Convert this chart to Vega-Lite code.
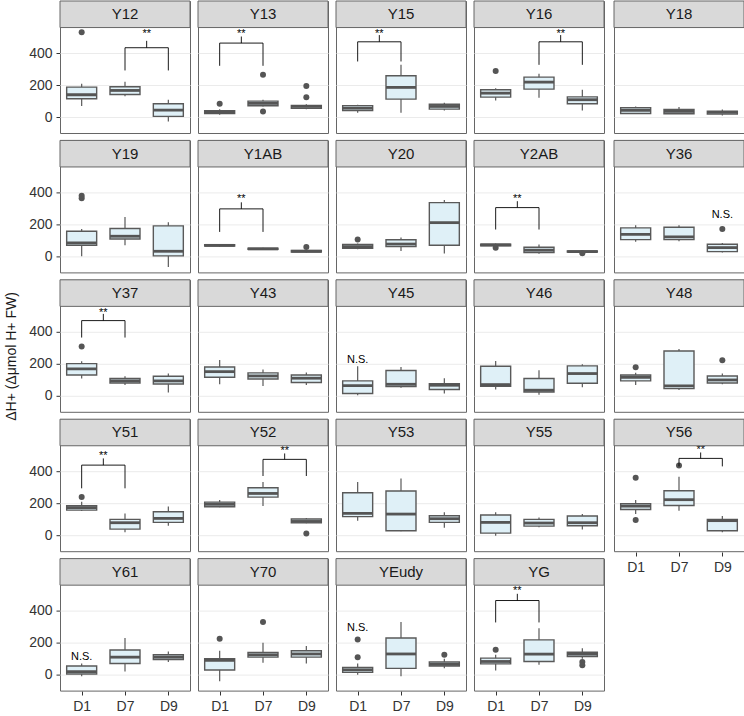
{
  "$schema": "https://vega.github.io/schema/vega-lite/v6.json",
  "padding": {"left": 4, "top": 0, "right": 2, "bottom": 2},
  "title": {"text": "ΔH+ (Δμmol H+ FW)", "orient": "left", "anchor": "middle", "fontSize": 14, "fontWeight": "normal", "font": "Liberation Sans", "color": "#1a1a1a", "offset": 10},
  "data": {"values": [
    {"kind":"strip","panel":"Y12"},{"kind":"strip","panel":"Y13"},{"kind":"strip","panel":"Y15"},{"kind":"strip","panel":"Y16"},{"kind":"strip","panel":"Y18"},
    {"kind":"strip","panel":"Y19"},{"kind":"strip","panel":"Y1AB"},{"kind":"strip","panel":"Y20"},{"kind":"strip","panel":"Y2AB"},{"kind":"strip","panel":"Y36"},
    {"kind":"strip","panel":"Y37"},{"kind":"strip","panel":"Y43"},{"kind":"strip","panel":"Y45"},{"kind":"strip","panel":"Y46"},{"kind":"strip","panel":"Y48"},
    {"kind":"strip","panel":"Y51"},{"kind":"strip","panel":"Y52"},{"kind":"strip","panel":"Y53"},{"kind":"strip","panel":"Y55"},{"kind":"strip","panel":"Y56"},
    {"kind":"strip","panel":"Y61"},{"kind":"strip","panel":"Y70"},{"kind":"strip","panel":"YEudy"},{"kind":"strip","panel":"YG"},

    {"kind":"box","panel":"Y12","day":"D1","lo":69,"q1":115,"med":140,"q3":188,"hi":209},
    {"kind":"box","panel":"Y12","day":"D7","lo":131,"q1":142,"med":167,"q3":190,"hi":221},
    {"kind":"box","panel":"Y12","day":"D9","lo":-27,"q1":5,"med":44,"q3":84,"hi":109},
    {"kind":"box","panel":"Y13","day":"D1","lo":15,"q1":22,"med":30,"q3":40,"hi":50},
    {"kind":"box","panel":"Y13","day":"D7","lo":67,"q1":71,"med":86,"q3":100,"hi":109},
    {"kind":"box","panel":"Y13","day":"D9","lo":50,"q1":55,"med":67,"q3":73,"hi":80},
    {"kind":"box","panel":"Y15","day":"D1","lo":28,"q1":42,"med":57,"q3":72,"hi":78},
    {"kind":"box","panel":"Y15","day":"D7","lo":27,"q1":113,"med":186,"q3":259,"hi":327},
    {"kind":"box","panel":"Y15","day":"D9","lo":42,"q1":50,"med":67,"q3":81,"hi":90},
    {"kind":"box","panel":"Y16","day":"D1","lo":104,"q1":125,"med":150,"q3":171,"hi":180},
    {"kind":"box","panel":"Y16","day":"D7","lo":121,"q1":175,"med":219,"q3":250,"hi":271},
    {"kind":"box","panel":"Y16","day":"D9","lo":42,"q1":84,"med":109,"q3":127,"hi":171},
    {"kind":"box","panel":"Y18","day":"D1","lo":19,"q1":23,"med":42,"q3":59,"hi":67},
    {"kind":"box","panel":"Y18","day":"D7","lo":19,"q1":21,"med":36,"q3":48,"hi":63},
    {"kind":"box","panel":"Y18","day":"D9","lo":11,"q1":19,"med":30,"q3":38,"hi":48},
    {"kind":"box","panel":"Y19","day":"D1","lo":2,"q1":71,"med":85,"q3":158,"hi":173},
    {"kind":"box","panel":"Y19","day":"D7","lo":71,"q1":110,"med":127,"q3":175,"hi":248},
    {"kind":"box","panel":"Y19","day":"D9","lo":-65,"q1":4,"med":33,"q3":192,"hi":214},
    {"kind":"box","panel":"Y1AB","day":"D1","lo":62,"q1":66,"med":70,"q3":74,"hi":78},
    {"kind":"box","panel":"Y1AB","day":"D7","lo":42,"q1":45,"med":48,"q3":52,"hi":55},
    {"kind":"box","panel":"Y1AB","day":"D9","lo":25,"q1":28,"med":33,"q3":38,"hi":42},
    {"kind":"box","panel":"Y20","day":"D1","lo":45,"q1":52,"med":62,"q3":75,"hi":82},
    {"kind":"box","panel":"Y20","day":"D7","lo":35,"q1":62,"med":78,"q3":105,"hi":119},
    {"kind":"box","panel":"Y20","day":"D9","lo":19,"q1":71,"med":212,"q3":337,"hi":354},
    {"kind":"box","panel":"Y2AB","day":"D1","lo":64,"q1":68,"med":73,"q3":78,"hi":82},
    {"kind":"box","panel":"Y2AB","day":"D7","lo":18,"q1":25,"med":40,"q3":58,"hi":75},
    {"kind":"box","panel":"Y2AB","day":"D9","lo":24,"q1":28,"med":31,"q3":35,"hi":38},
    {"kind":"box","panel":"Y36","day":"D1","lo":92,"q1":106,"med":139,"q3":179,"hi":196},
    {"kind":"box","panel":"Y36","day":"D7","lo":96,"q1":106,"med":123,"q3":183,"hi":196},
    {"kind":"box","panel":"Y36","day":"D9","lo":25,"q1":31,"med":56,"q3":77,"hi":85},
    {"kind":"box","panel":"Y37","day":"D1","lo":109,"q1":131,"med":169,"q3":202,"hi":217},
    {"kind":"box","panel":"Y37","day":"D7","lo":69,"q1":81,"med":94,"q3":109,"hi":123},
    {"kind":"box","panel":"Y37","day":"D9","lo":21,"q1":75,"med":94,"q3":123,"hi":140},
    {"kind":"box","panel":"Y43","day":"D1","lo":73,"q1":117,"med":152,"q3":181,"hi":225},
    {"kind":"box","panel":"Y43","day":"D7","lo":63,"q1":106,"med":125,"q3":144,"hi":165},
    {"kind":"box","panel":"Y43","day":"D9","lo":69,"q1":84,"med":111,"q3":131,"hi":146},
    {"kind":"box","panel":"Y45","day":"D1","lo":5,"q1":15,"med":65,"q3":94,"hi":186},
    {"kind":"box","panel":"Y45","day":"D7","lo":52,"q1":59,"med":73,"q3":159,"hi":181},
    {"kind":"box","panel":"Y45","day":"D9","lo":15,"q1":40,"med":67,"q3":77,"hi":111},
    {"kind":"box","panel":"Y46","day":"D1","lo":40,"q1":61,"med":71,"q3":186,"hi":219},
    {"kind":"box","panel":"Y46","day":"D7","lo":7,"q1":25,"med":36,"q3":109,"hi":161},
    {"kind":"box","panel":"Y46","day":"D9","lo":54,"q1":79,"med":140,"q3":188,"hi":198},
    {"kind":"box","panel":"Y48","day":"D1","lo":69,"q1":94,"med":117,"q3":131,"hi":145},
    {"kind":"box","panel":"Y48","day":"D7","lo":38,"q1":46,"med":63,"q3":281,"hi":294},
    {"kind":"box","panel":"Y48","day":"D9","lo":73,"q1":81,"med":100,"q3":125,"hi":140},
    {"kind":"box","panel":"Y51","day":"D1","lo":152,"q1":158,"med":173,"q3":185,"hi":210},
    {"kind":"box","panel":"Y51","day":"D7","lo":19,"q1":39,"med":79,"q3":100,"hi":137},
    {"kind":"box","panel":"Y51","day":"D9","lo":60,"q1":81,"med":106,"q3":148,"hi":181},
    {"kind":"box","panel":"Y52","day":"D1","lo":175,"q1":179,"med":194,"q3":208,"hi":221},
    {"kind":"box","panel":"Y52","day":"D7","lo":183,"q1":239,"med":262,"q3":298,"hi":333},
    {"kind":"box","panel":"Y52","day":"D9","lo":75,"q1":78,"med":87,"q3":102,"hi":108},
    {"kind":"box","panel":"Y53","day":"D1","lo":91,"q1":117,"med":137,"q3":266,"hi":333},
    {"kind":"box","panel":"Y53","day":"D7","lo":25,"q1":29,"med":133,"q3":277,"hi":356},
    {"kind":"box","panel":"Y53","day":"D9","lo":48,"q1":81,"med":104,"q3":123,"hi":144},
    {"kind":"box","panel":"Y55","day":"D1","lo":-2,"q1":14,"med":81,"q3":127,"hi":144},
    {"kind":"box","panel":"Y55","day":"D7","lo":50,"q1":58,"med":77,"q3":100,"hi":112},
    {"kind":"box","panel":"Y55","day":"D9","lo":37,"q1":60,"med":79,"q3":121,"hi":133},
    {"kind":"box","panel":"Y56","day":"D1","lo":133,"q1":162,"med":183,"q3":198,"hi":221},
    {"kind":"box","panel":"Y56","day":"D7","lo":154,"q1":187,"med":223,"q3":279,"hi":366},
    {"kind":"box","panel":"Y56","day":"D9","lo":19,"q1":29,"med":92,"q3":100,"hi":121},
    {"kind":"box","panel":"Y61","day":"D1","lo":-10,"q1":5,"med":20,"q3":55,"hi":70},
    {"kind":"box","panel":"Y61","day":"D7","lo":20,"q1":70,"med":110,"q3":155,"hi":230},
    {"kind":"box","panel":"Y61","day":"D9","lo":80,"q1":95,"med":110,"q3":125,"hi":145},
    {"kind":"box","panel":"Y70","day":"D1","lo":-40,"q1":30,"med":90,"q3":100,"hi":150},
    {"kind":"box","panel":"Y70","day":"D7","lo":75,"q1":110,"med":125,"q3":140,"hi":200},
    {"kind":"box","panel":"Y70","day":"D9","lo":70,"q1":110,"med":130,"q3":150,"hi":180},
    {"kind":"box","panel":"YEudy","day":"D1","lo":0,"q1":15,"med":30,"q3":45,"hi":70},
    {"kind":"box","panel":"YEudy","day":"D7","lo":-10,"q1":40,"med":130,"q3":230,"hi":330},
    {"kind":"box","panel":"YEudy","day":"D9","lo":40,"q1":55,"med":65,"q3":80,"hi":100},
    {"kind":"box","panel":"YG","day":"D1","lo":27,"q1":68,"med":83,"q3":104,"hi":125},
    {"kind":"box","panel":"YG","day":"D7","lo":62,"q1":83,"med":129,"q3":218,"hi":291},
    {"kind":"box","panel":"YG","day":"D9","lo":100,"q1":114,"med":129,"q3":141,"hi":166},

    {"kind":"out","panel":"Y12","day":"D1","val":531},
    {"kind":"out","panel":"Y13","day":"D1","val":84},
    {"kind":"out","panel":"Y13","day":"D7","val":265},
    {"kind":"out","panel":"Y13","day":"D7","val":36},
    {"kind":"out","panel":"Y13","day":"D9","val":194},
    {"kind":"out","panel":"Y13","day":"D9","val":125},
    {"kind":"out","panel":"Y16","day":"D1","val":288},
    {"kind":"out","panel":"Y19","day":"D1","val":365},
    {"kind":"out","panel":"Y19","day":"D1","val":380},
    {"kind":"out","panel":"Y1AB","day":"D9","val":60},
    {"kind":"out","panel":"Y20","day":"D1","val":106},
    {"kind":"out","panel":"Y2AB","day":"D1","val":55},
    {"kind":"out","panel":"Y2AB","day":"D9","val":20},
    {"kind":"out","panel":"Y36","day":"D9","val":173},
    {"kind":"out","panel":"Y37","day":"D1","val":309},
    {"kind":"out","panel":"Y48","day":"D1","val":179},
    {"kind":"out","panel":"Y48","day":"D9","val":223},
    {"kind":"out","panel":"Y51","day":"D1","val":239},
    {"kind":"out","panel":"Y52","day":"D9","val":12},
    {"kind":"out","panel":"Y56","day":"D1","val":360},
    {"kind":"out","panel":"Y56","day":"D1","val":96},
    {"kind":"out","panel":"Y56","day":"D7","val":437},
    {"kind":"out","panel":"Y70","day":"D1","val":225},
    {"kind":"out","panel":"Y70","day":"D7","val":330},
    {"kind":"out","panel":"YEudy","day":"D1","val":220},
    {"kind":"out","panel":"YEudy","day":"D1","val":110},
    {"kind":"out","panel":"YEudy","day":"D9","val":125},
    {"kind":"out","panel":"YG","day":"D1","val":156},
    {"kind":"out","panel":"YG","day":"D9","val":80},
    {"kind":"out","panel":"YG","day":"D9","val":60},

    {"kind":"br","panel":"Y12","from":"D7","to":"D9","mid":"D7–D9","leg":292,"h":434,"tip":477,"ty":531,"label":"**"},
    {"kind":"br","panel":"Y13","from":"D1","to":"D7","mid":"D1–D7","leg":321,"h":463,"tip":504,"ty":531,"label":"**"},
    {"kind":"br","panel":"Y15","from":"D1","to":"D7","mid":"D1–D7","leg":348,"h":471,"tip":513,"ty":531,"label":"**"},
    {"kind":"br","panel":"Y16","from":"D7","to":"D9","mid":"D7–D9","leg":327,"h":471,"tip":513,"ty":531,"label":"**"},
    {"kind":"br","panel":"Y1AB","from":"D1","to":"D7","mid":"D1–D7","leg":154,"h":298,"tip":339,"ty":373,"label":"**"},
    {"kind":"br","panel":"Y2AB","from":"D1","to":"D7","mid":"D1–D7","leg":169,"h":306,"tip":346,"ty":373,"label":"**"},
    {"kind":"br","panel":"Y37","from":"D1","to":"D7","mid":"D1–D7","leg":365,"h":471,"tip":513,"ty":531,"label":"**"},
    {"kind":"br","panel":"Y51","from":"D1","to":"D7","mid":"D1–D7","leg":294,"h":439,"tip":481,"ty":506,"label":"**"},
    {"kind":"br","panel":"Y52","from":"D7","to":"D9","mid":"D7–D9","leg":371,"h":475,"tip":512,"ty":537,"label":"**"},
    {"kind":"br","panel":"Y56","from":"D7","to":"D9","mid":"D7–D9","leg":431,"h":481,"tip":518,"ty":544,"label":"**"},
    {"kind":"br","panel":"YG","from":"D1","to":"D7","mid":"D1–D7","leg":327,"h":464,"tip":506,"ty":535,"label":"**"},

    {"kind":"ns","panel":"Y36","day":"D9","val":258,"label":"N.S."},
    {"kind":"ns","panel":"Y45","day":"D1","val":227,"label":"N.S."},
    {"kind":"ns","panel":"Y61","day":"D1","val":110,"label":"N.S."},
    {"kind":"ns","panel":"YEudy","day":"D1","val":290,"label":"N.S."}
  ]},
  "spacing": 8,
  "hconcat": [
    {
      "transform": [{"filter": "indexof(['Y18','Y36','Y48','Y56'], datum.panel) < 0"}],
      "facet": {"field": "panel", "type": "nominal", "header": {"labels": false, "title": null, "labelFontSize": 0, "labelPadding": 0},
        "sort": ["Y12","Y13","Y15","Y16","Y19","Y1AB","Y20","Y2AB","Y37","Y43","Y45","Y46","Y51","Y52","Y53","Y55","Y61","Y70","YEudy","YG"]},
      "columns": 4,
      "spacing": {"row": 7.4, "column": 8},
      "bounds": "flush",
      "spec": {
        "width": 130,
        "height": 132,
        "layer": [
          {
            "transform": [{"filter": "datum.kind === 'box'"}],
            "mark": {"type": "rule", "color": "#595959", "strokeWidth": 1.2},
            "encoding": {
              "x": {"field": "day", "type": "nominal", "scale": {"type": "point", "domain": ["D1","D1–D7","D7","D7–D9","D9"], "padding": 1.2}, "axis": {"values": ["D1","D7","D9"], "title": null, "labelAngle": 0}},
              "y": {"field": "lo", "type": "quantitative", "title": null, "scale": {"domain": [-99, 726], "nice": false, "zero": false},
                "axis": {"values": [0,100,200,300,400,500], "labelExpr": "datum.value % 200 === 0 ? datum.label : ''",
                  "tickOpacity": {"condition": {"test": "datum.value % 200 === 0", "value": 1}, "value": 0},
                  "gridWidth": {"condition": {"test": "datum.value % 200 === 0", "value": 1}, "value": 0.6}, "title": null}},
              "y2": {"field": "hi"}
            }
          },
          {
            "transform": [{"filter": "datum.kind === 'box'"}],
            "mark": {"type": "bar", "size": 30, "fill": "#DFF0F7", "stroke": "#595959", "strokeWidth": 1.4},
            "encoding": {
              "x": {"field": "day", "type": "nominal", "scale": {"type": "point", "domain": ["D1","D1–D7","D7","D7–D9","D9"], "padding": 1.2}, "axis": {"values": ["D1","D7","D9"], "title": null, "labelAngle": 0}},
              "y": {"field": "q1", "type": "quantitative", "title": null, "scale": {"domain": [-99, 726], "nice": false, "zero": false}},
              "y2": {"field": "q3"}
            }
          },
          {
            "transform": [{"filter": "datum.kind === 'box'"}],
            "mark": {"type": "tick", "size": 30, "thickness": 2.8, "color": "#555555", "opacity": 1},
            "encoding": {
              "x": {"field": "day", "type": "nominal", "scale": {"type": "point", "domain": ["D1","D1–D7","D7","D7–D9","D9"], "padding": 1.2}, "axis": {"values": ["D1","D7","D9"], "title": null, "labelAngle": 0}},
              "y": {"field": "med", "type": "quantitative", "title": null, "scale": {"domain": [-99, 726], "nice": false, "zero": false}}
            }
          },
          {
            "transform": [{"filter": "datum.kind === 'out'"}],
            "mark": {"type": "circle", "size": 36, "color": "#555555", "opacity": 1},
            "encoding": {
              "x": {"field": "day", "type": "nominal", "scale": {"type": "point", "domain": ["D1","D1–D7","D7","D7–D9","D9"], "padding": 1.2}, "axis": {"values": ["D1","D7","D9"], "title": null, "labelAngle": 0}},
              "y": {"field": "val", "type": "quantitative", "title": null, "scale": {"domain": [-99, 726], "nice": false, "zero": false}}
            }
          },
          {
            "transform": [{"filter": "datum.kind === 'br'"}],
            "mark": {"type": "rule", "color": "#000000", "strokeWidth": 0.9},
            "encoding": {
              "x": {"field": "from", "type": "nominal", "scale": {"type": "point", "domain": ["D1","D1–D7","D7","D7–D9","D9"], "padding": 1.2}, "axis": {"values": ["D1","D7","D9"], "title": null, "labelAngle": 0}},
              "x2": {"field": "to"},
              "y": {"field": "h", "type": "quantitative", "title": null, "scale": {"domain": [-99, 726], "nice": false, "zero": false}}
            }
          },
          {
            "transform": [{"filter": "datum.kind === 'br'"}],
            "mark": {"type": "rule", "color": "#000000", "strokeWidth": 0.9},
            "encoding": {
              "x": {"field": "from", "type": "nominal", "scale": {"type": "point", "domain": ["D1","D1–D7","D7","D7–D9","D9"], "padding": 1.2}, "axis": {"values": ["D1","D7","D9"], "title": null, "labelAngle": 0}},
              "y": {"field": "leg", "type": "quantitative", "title": null, "scale": {"domain": [-99, 726], "nice": false, "zero": false}},
              "y2": {"field": "h"}
            }
          },
          {
            "transform": [{"filter": "datum.kind === 'br'"}],
            "mark": {"type": "rule", "color": "#000000", "strokeWidth": 0.9},
            "encoding": {
              "x": {"field": "to", "type": "nominal", "scale": {"type": "point", "domain": ["D1","D1–D7","D7","D7–D9","D9"], "padding": 1.2}, "axis": {"values": ["D1","D7","D9"], "title": null, "labelAngle": 0}},
              "y": {"field": "leg", "type": "quantitative", "title": null, "scale": {"domain": [-99, 726], "nice": false, "zero": false}},
              "y2": {"field": "h"}
            }
          },
          {
            "transform": [{"filter": "datum.kind === 'br'"}],
            "mark": {"type": "rule", "color": "#000000", "strokeWidth": 0.9},
            "encoding": {
              "x": {"field": "mid", "type": "nominal", "scale": {"type": "point", "domain": ["D1","D1–D7","D7","D7–D9","D9"], "padding": 1.2}, "axis": {"values": ["D1","D7","D9"], "title": null, "labelAngle": 0}},
              "y": {"field": "h", "type": "quantitative", "title": null, "scale": {"domain": [-99, 726], "nice": false, "zero": false}},
              "y2": {"field": "tip"}
            }
          },
          {
            "transform": [{"filter": "datum.kind === 'br'"}],
            "mark": {"type": "text", "fontSize": 11, "color": "#000000", "baseline": "middle", "dy": 2, "font": "Liberation Sans"},
            "encoding": {
              "x": {"field": "mid", "type": "nominal", "scale": {"type": "point", "domain": ["D1","D1–D7","D7","D7–D9","D9"], "padding": 1.2}, "axis": {"values": ["D1","D7","D9"], "title": null, "labelAngle": 0}},
              "y": {"field": "ty", "type": "quantitative", "title": null, "scale": {"domain": [-99, 726], "nice": false, "zero": false}},
              "text": {"field": "label"}
            }
          },
          {
            "transform": [{"filter": "datum.kind === 'ns'"}],
            "mark": {"type": "text", "fontSize": 11, "color": "#000000", "baseline": "middle", "font": "Liberation Sans"},
            "encoding": {
              "x": {"field": "day", "type": "nominal", "scale": {"type": "point", "domain": ["D1","D1–D7","D7","D7–D9","D9"], "padding": 1.2}, "axis": {"values": ["D1","D7","D9"], "title": null, "labelAngle": 0}},
              "y": {"field": "val", "type": "quantitative", "title": null, "scale": {"domain": [-99, 726], "nice": false, "zero": false}},
              "text": {"field": "label"}
            }
          },
          {
            "transform": [{"filter": "datum.kind === 'strip'"}],
            "mark": {"type": "rect", "fill": "#D9D9D9", "stroke": "#666666", "strokeWidth": 1},
            "encoding": {
              "y": {"datum": 560, "type": "quantitative", "title": null, "scale": {"domain": [-99, 726], "nice": false, "zero": false}},
              "y2": {"datum": 726}
            }
          },
          {
            "transform": [{"filter": "datum.kind === 'strip'"}],
            "mark": {"type": "text", "fontSize": 15, "color": "#1a1a1a", "baseline": "middle", "align": "center", "font": "Liberation Sans"},
            "encoding": {
              "y": {"datum": 643, "type": "quantitative", "title": null, "scale": {"domain": [-99, 726], "nice": false, "zero": false}},
              "text": {"field": "panel"}
            }
          }
        ]
      }
    },
    {
      "transform": [{"filter": "indexof(['Y18','Y36','Y48','Y56'], datum.panel) >= 0"}],
      "facet": {"field": "panel", "type": "nominal", "header": {"labels": false, "title": null, "labelFontSize": 0, "labelPadding": 0},
        "sort": ["Y18","Y36","Y48","Y56"]},
      "columns": 1,
      "spacing": {"row": 7.4, "column": 8},
      "bounds": "flush",
      "spec": {
        "width": 130,
        "height": 132,
        "layer": [
          {
            "transform": [{"filter": "datum.kind === 'box'"}],
            "mark": {"type": "rule", "color": "#595959", "strokeWidth": 1.2},
            "encoding": {
              "x": {"field": "day", "type": "nominal", "scale": {"type": "point", "domain": ["D1","D1–D7","D7","D7–D9","D9"], "padding": 1.2}, "axis": {"values": ["D1","D7","D9"], "title": null, "labelAngle": 0}},
              "y": {"field": "lo", "type": "quantitative", "title": null, "scale": {"domain": [-99, 726], "nice": false, "zero": false},
                "axis": {"values": [0,100,200,300,400,500], "labels": false, "ticks": false,
                  "gridWidth": {"condition": {"test": "datum.value % 200 === 0", "value": 1}, "value": 0.6}, "title": null}},
              "y2": {"field": "hi"}
            }
          },
          {
            "transform": [{"filter": "datum.kind === 'box'"}],
            "mark": {"type": "bar", "size": 30, "fill": "#DFF0F7", "stroke": "#595959", "strokeWidth": 1.4},
            "encoding": {
              "x": {"field": "day", "type": "nominal", "scale": {"type": "point", "domain": ["D1","D1–D7","D7","D7–D9","D9"], "padding": 1.2}, "axis": {"values": ["D1","D7","D9"], "title": null, "labelAngle": 0}},
              "y": {"field": "q1", "type": "quantitative", "title": null, "scale": {"domain": [-99, 726], "nice": false, "zero": false}},
              "y2": {"field": "q3"}
            }
          },
          {
            "transform": [{"filter": "datum.kind === 'box'"}],
            "mark": {"type": "tick", "size": 30, "thickness": 2.8, "color": "#555555", "opacity": 1},
            "encoding": {
              "x": {"field": "day", "type": "nominal", "scale": {"type": "point", "domain": ["D1","D1–D7","D7","D7–D9","D9"], "padding": 1.2}, "axis": {"values": ["D1","D7","D9"], "title": null, "labelAngle": 0}},
              "y": {"field": "med", "type": "quantitative", "title": null, "scale": {"domain": [-99, 726], "nice": false, "zero": false}}
            }
          },
          {
            "transform": [{"filter": "datum.kind === 'out'"}],
            "mark": {"type": "circle", "size": 36, "color": "#555555", "opacity": 1},
            "encoding": {
              "x": {"field": "day", "type": "nominal", "scale": {"type": "point", "domain": ["D1","D1–D7","D7","D7–D9","D9"], "padding": 1.2}, "axis": {"values": ["D1","D7","D9"], "title": null, "labelAngle": 0}},
              "y": {"field": "val", "type": "quantitative", "title": null, "scale": {"domain": [-99, 726], "nice": false, "zero": false}}
            }
          },
          {
            "transform": [{"filter": "datum.kind === 'br'"}],
            "mark": {"type": "rule", "color": "#000000", "strokeWidth": 0.9},
            "encoding": {
              "x": {"field": "from", "type": "nominal", "scale": {"type": "point", "domain": ["D1","D1–D7","D7","D7–D9","D9"], "padding": 1.2}, "axis": {"values": ["D1","D7","D9"], "title": null, "labelAngle": 0}},
              "x2": {"field": "to"},
              "y": {"field": "h", "type": "quantitative", "title": null, "scale": {"domain": [-99, 726], "nice": false, "zero": false}}
            }
          },
          {
            "transform": [{"filter": "datum.kind === 'br'"}],
            "mark": {"type": "rule", "color": "#000000", "strokeWidth": 0.9},
            "encoding": {
              "x": {"field": "from", "type": "nominal", "scale": {"type": "point", "domain": ["D1","D1–D7","D7","D7–D9","D9"], "padding": 1.2}, "axis": {"values": ["D1","D7","D9"], "title": null, "labelAngle": 0}},
              "y": {"field": "leg", "type": "quantitative", "title": null, "scale": {"domain": [-99, 726], "nice": false, "zero": false}},
              "y2": {"field": "h"}
            }
          },
          {
            "transform": [{"filter": "datum.kind === 'br'"}],
            "mark": {"type": "rule", "color": "#000000", "strokeWidth": 0.9},
            "encoding": {
              "x": {"field": "to", "type": "nominal", "scale": {"type": "point", "domain": ["D1","D1–D7","D7","D7–D9","D9"], "padding": 1.2}, "axis": {"values": ["D1","D7","D9"], "title": null, "labelAngle": 0}},
              "y": {"field": "leg", "type": "quantitative", "title": null, "scale": {"domain": [-99, 726], "nice": false, "zero": false}},
              "y2": {"field": "h"}
            }
          },
          {
            "transform": [{"filter": "datum.kind === 'br'"}],
            "mark": {"type": "rule", "color": "#000000", "strokeWidth": 0.9},
            "encoding": {
              "x": {"field": "mid", "type": "nominal", "scale": {"type": "point", "domain": ["D1","D1–D7","D7","D7–D9","D9"], "padding": 1.2}, "axis": {"values": ["D1","D7","D9"], "title": null, "labelAngle": 0}},
              "y": {"field": "h", "type": "quantitative", "title": null, "scale": {"domain": [-99, 726], "nice": false, "zero": false}},
              "y2": {"field": "tip"}
            }
          },
          {
            "transform": [{"filter": "datum.kind === 'br'"}],
            "mark": {"type": "text", "fontSize": 11, "color": "#000000", "baseline": "middle", "dy": 2, "font": "Liberation Sans"},
            "encoding": {
              "x": {"field": "mid", "type": "nominal", "scale": {"type": "point", "domain": ["D1","D1–D7","D7","D7–D9","D9"], "padding": 1.2}, "axis": {"values": ["D1","D7","D9"], "title": null, "labelAngle": 0}},
              "y": {"field": "ty", "type": "quantitative", "title": null, "scale": {"domain": [-99, 726], "nice": false, "zero": false}},
              "text": {"field": "label"}
            }
          },
          {
            "transform": [{"filter": "datum.kind === 'ns'"}],
            "mark": {"type": "text", "fontSize": 11, "color": "#000000", "baseline": "middle", "font": "Liberation Sans"},
            "encoding": {
              "x": {"field": "day", "type": "nominal", "scale": {"type": "point", "domain": ["D1","D1–D7","D7","D7–D9","D9"], "padding": 1.2}, "axis": {"values": ["D1","D7","D9"], "title": null, "labelAngle": 0}},
              "y": {"field": "val", "type": "quantitative", "title": null, "scale": {"domain": [-99, 726], "nice": false, "zero": false}},
              "text": {"field": "label"}
            }
          },
          {
            "transform": [{"filter": "datum.kind === 'strip'"}],
            "mark": {"type": "rect", "fill": "#D9D9D9", "stroke": "#666666", "strokeWidth": 1},
            "encoding": {
              "y": {"datum": 560, "type": "quantitative", "title": null, "scale": {"domain": [-99, 726], "nice": false, "zero": false}},
              "y2": {"datum": 726}
            }
          },
          {
            "transform": [{"filter": "datum.kind === 'strip'"}],
            "mark": {"type": "text", "fontSize": 15, "color": "#1a1a1a", "baseline": "middle", "align": "center", "font": "Liberation Sans"},
            "encoding": {
              "y": {"datum": 643, "type": "quantitative", "title": null, "scale": {"domain": [-99, 726], "nice": false, "zero": false}},
              "text": {"field": "panel"}
            }
          }
        ]
      }
    }
  ],
  "config": {
    "font": "Liberation Sans",
    "header": {"labels": false, "title": null, "labelFontSize": 0, "labelPadding": 0},
    "headerFacet": {"labels": false, "title": null, "labelFontSize": 0, "labelPadding": 0},
    "view": {"stroke": "#666666", "strokeWidth": 1},
    "axis": {"domain": false, "labelFontSize": 14, "labelColor": "#333333", "tickColor": "#333333", "tickSize": 4, "labelPadding": 4, "gridColor": "#EBEBEB", "labelFont": "Liberation Sans"}
  }
}
